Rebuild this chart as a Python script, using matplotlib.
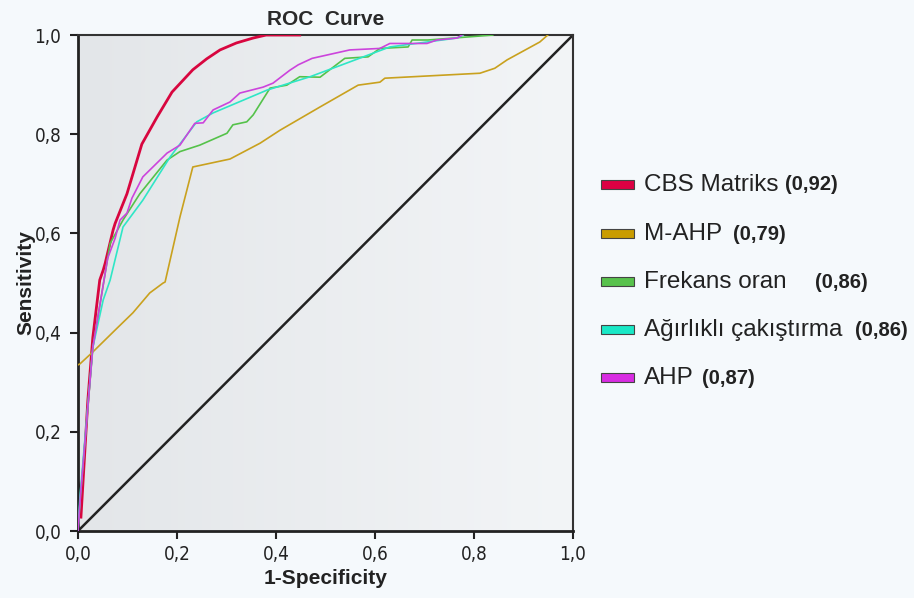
import numpy as np
import matplotlib
matplotlib.use("Agg")
import matplotlib.pyplot as plt
from matplotlib.colors import LinearSegmentedColormap
from matplotlib.patches import Rectangle

# ROC curves (1-specificity, sensitivity)
cbs_x = [0.006, 0.02, 0.03, 0.044, 0.051, 0.055, 0.071, 0.075, 0.099, 0.129, 0.16, 0.19, 0.232, 0.26, 0.287, 0.32, 0.354, 0.38, 0.448]
cbs_y = [0.028, 0.264, 0.39, 0.506, 0.526, 0.54, 0.607, 0.62, 0.68, 0.78, 0.835, 0.885, 0.93, 0.952, 0.97, 0.984, 0.994, 1.0, 1.0]

mahp_x = [0.0, 0.004, 0.03, 0.079, 0.111, 0.145, 0.172, 0.176, 0.206, 0.232, 0.307, 0.368, 0.408, 0.489, 0.566, 0.61, 0.62, 0.812, 0.842, 0.867, 0.933, 0.949]
mahp_y = [0.335, 0.337, 0.361, 0.409, 0.44, 0.48, 0.5, 0.502, 0.633, 0.734, 0.75, 0.782, 0.808, 0.855, 0.899, 0.905, 0.913, 0.923, 0.933, 0.95, 0.986, 1.0]

frek_x = [0.0, 0.005, 0.03, 0.065, 0.091, 0.125, 0.18, 0.206, 0.246, 0.301, 0.313, 0.341, 0.354, 0.388, 0.422, 0.448, 0.489, 0.539, 0.586, 0.61, 0.667, 0.675, 0.707, 0.838]
frek_y = [0.0, 0.07, 0.37, 0.58, 0.627, 0.68, 0.748, 0.765, 0.778, 0.802, 0.819, 0.825, 0.839, 0.893, 0.899, 0.916, 0.915, 0.953, 0.956, 0.973, 0.976, 0.99, 0.99, 1.0]

agir_x = [0.0, 0.004, 0.03, 0.051, 0.065, 0.091, 0.131, 0.186, 0.24, 0.273, 0.382, 0.469, 0.63, 0.705, 0.766, 0.778]
agir_y = [0.0, 0.069, 0.37, 0.466, 0.506, 0.613, 0.667, 0.754, 0.825, 0.843, 0.889, 0.916, 0.976, 0.986, 0.994, 1.0]

ahp_x = [0.0, 0.005, 0.03, 0.06, 0.075, 0.085, 0.099, 0.109, 0.131, 0.18, 0.206, 0.236, 0.253, 0.273, 0.307, 0.327, 0.374, 0.394, 0.428, 0.445, 0.473, 0.549, 0.61, 0.63, 0.705, 0.725, 0.766, 0.776]
ahp_y = [0.0, 0.07, 0.37, 0.55, 0.59, 0.627, 0.641, 0.671, 0.714, 0.762, 0.778, 0.822, 0.823, 0.849, 0.865, 0.883, 0.895, 0.903, 0.929, 0.94, 0.953, 0.97, 0.973, 0.983, 0.983, 0.99, 0.994, 1.0]

names = ["CBS Matriks", "M-AHP", "Frekans oran", "Ağırlıklı çakıştırma", "AHP"]
aucs = ["(0,92)", "(0,79)", "(0,86)", "(0,86)", "(0,87)"]
colors = ["#d8063f", "#c9a11e", "#55c24a", "#2fe6c6", "#cc44dc"]
legend_colors = ["#dc0043", "#c99c00", "#58c24c", "#19e8c6", "#d82ce2"]
ticks = [0.0, 0.2, 0.4, 0.6, 0.8, 1.0]
tick_labels = ["0,0", "0,2", "0,4", "0,6", "0,8", "1,0"]

fig = plt.figure(figsize=(9.14, 5.98), dpi=100)
fig.patch.set_facecolor("#f5f9fc")
ax = fig.add_axes([0.0853, 0.112, 0.5416, 0.8294])

# grey-to-light gradient background of the plot area
grad = LinearSegmentedColormap.from_list("bg", ["#e3e6e9", "#f3f5f7"])
ax.imshow(np.linspace(0, 1, 256).reshape(1, -1), extent=[0, 1, 0, 1], aspect="auto",
          cmap=grad, zorder=0)

ax.plot([0, 1], [0, 1], color="#222222", lw=1.8, zorder=2)
ax.plot([0.0, 0.008], [0.103, 0.069], color="#222222", lw=1.2, zorder=2)

curves = [(cbs_x, cbs_y), (mahp_x, mahp_y), (frek_x, frek_y), (agir_x, agir_y), (ahp_x, ahp_y)]
widths = [2.0, 1.2, 1.2, 1.2, 1.2]
order = [1, 3, 2, 4, 5]
for (cx, cy), c, w, z in zip(curves, colors, widths, order):
    ax.plot(cx, cy, color=c, lw=w, zorder=3 + z)

tick_font = dict(fontsize=13.5, family="DejaVu Sans", fontstretch="condensed", color="#222222")
ax.set_xlim(0, 1)
ax.set_ylim(0, 1)
ax.set_xticks(ticks)
ax.set_yticks(ticks)
ax.set_xticklabels(tick_labels, **tick_font)
ax.set_yticklabels(tick_labels, **tick_font)
ax.tick_params(direction="out", length=6, width=1.5, color="#222222")
ax.tick_params(axis="y", pad=6)
ax.tick_params(axis="x", pad=4)
for side in ["left", "bottom"]:
    ax.spines[side].set_linewidth(2)
    ax.spines[side].set_color("#222222")
for side in ["top", "right"]:
    ax.spines[side].set_linewidth(1.5)
    ax.spines[side].set_color("#333333")

ax.set_title("ROC  Curve", fontsize=15, fontweight="bold", family="Liberation Sans",
             color="#2a2a2a", pad=7)
ax.set_xlabel("1-Specificity", fontsize=15, fontweight="bold", family="Liberation Sans",
              color="#222222", labelpad=4)
ax.set_ylabel("Sensitivity", fontsize=15, fontweight="bold", family="Liberation Sans",
              color="#222222", labelpad=-1)

# custom legend on the right
leg_y = [185, 234, 282, 330, 378]
auc_x = [785, 733, 815, 855, 702]
W, H = 914, 598
for name, auc, lc, yy, ax_x in zip(names, aucs, legend_colors, leg_y, auc_x):
    fig.patches.append(Rectangle((601 / W, 1 - (yy + 4) / H), 33 / W, 9 / H,
                                 transform=fig.transFigure, facecolor=lc,
                                 edgecolor="#444444", lw=0.8))
    fig.text(644 / W, 1 - yy / H, name, fontsize=17.5, family="Liberation Sans",
             color="#222222", va="center", ha="left")
    fig.text(ax_x / W, 1 - yy / H, auc, fontsize=14.5, fontweight="bold",
             family="Liberation Sans", color="#222222", va="center", ha="left")

fig.savefig("out.png", dpi=100, facecolor=fig.get_facecolor())
